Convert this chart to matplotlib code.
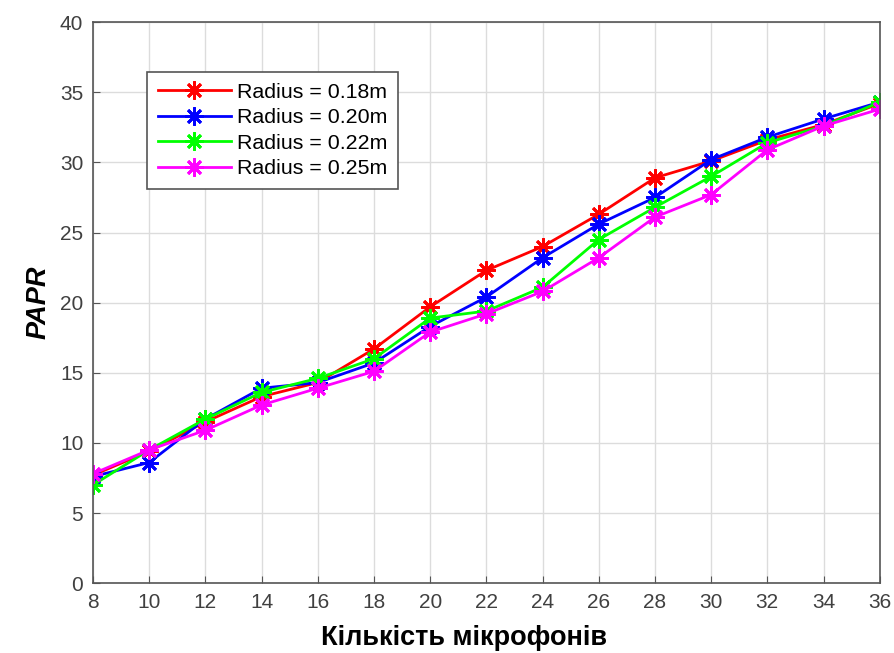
import matplotlib.pyplot as plt

mics = [8, 10, 12, 14, 16, 18, 20, 22, 24, 26, 28, 30, 32, 34, 36]
papr_018 = [7.7, 9.4, 11.5, 13.3, 14.3, 16.7, 19.7, 22.3, 24.0, 26.3, 28.9, 30.1, 31.6, 32.7, 34.2]
papr_020 = [7.6, 8.6, 11.7, 13.9, 14.3, 15.7, 18.3, 20.4, 23.2, 25.6, 27.5, 30.2, 31.8, 33.1, 34.3]
papr_022 = [7.0, 9.5, 11.7, 13.6, 14.6, 16.0, 18.9, 19.4, 21.1, 24.5, 26.8, 29.0, 31.4, 32.6, 34.3]
papr_025 = [7.8, 9.5, 10.9, 12.7, 13.9, 15.1, 17.9, 19.2, 20.8, 23.2, 26.1, 27.7, 30.9, 32.6, 33.8]

labels = ['Radius = 0.18m', 'Radius = 0.20m', 'Radius = 0.22m', 'Radius = 0.25m']
colors = ['#ff0000', '#0000ff', '#00ff00', '#ff00ff']
series = [papr_018, papr_020, papr_022, papr_025]

plt.rcParams['font.family'] = ['Liberation Sans', 'DejaVu Sans']

fig = plt.figure(figsize=(8.94, 6.53), dpi=100)
ax = fig.add_axes([0.104, 0.107, 0.880, 0.859])

# MATLAB-style asterisk markers
for vals, c, lab in zip(series, colors, labels):
    ax.plot(mics, vals, color=c, linewidth=2, marker=(8, 2, 0), markersize=13,
            markeredgewidth=2, label=lab)

ax.set_xlim(8, 36)
ax.set_ylim(0, 40)
ax.set_xticks(range(8, 37, 2))
ax.set_yticks(range(0, 41, 5))
ax.grid(True, color='#dcdcdc', linewidth=1)
ax.set_axisbelow(True)
ax.tick_params(direction='in', labelsize=15, length=5, pad=7,
               color='#555555', labelcolor='#404040')
for s in ax.spines.values():
    s.set_color('#555555')
    s.set_linewidth(1.2)

ax.set_xlabel('Кількість мікрофонів', fontsize=19.5, fontweight='bold')
ax.xaxis.set_label_coords(0.471, -0.075)
ax.set_ylabel('PAPR', fontsize=19.5, fontweight='bold', fontstyle='italic', labelpad=6)

leg = ax.legend(loc='upper left', bbox_to_anchor=(0.069, 0.911), borderaxespad=0,
                fontsize=15.4, handlelength=3.4, handletextpad=0.3, fancybox=False,
                framealpha=1, edgecolor='#555555', labelspacing=0.3, borderpad=0.5)
leg.get_frame().set_linewidth(1.2)

fig.savefig('out.png', dpi=100)
